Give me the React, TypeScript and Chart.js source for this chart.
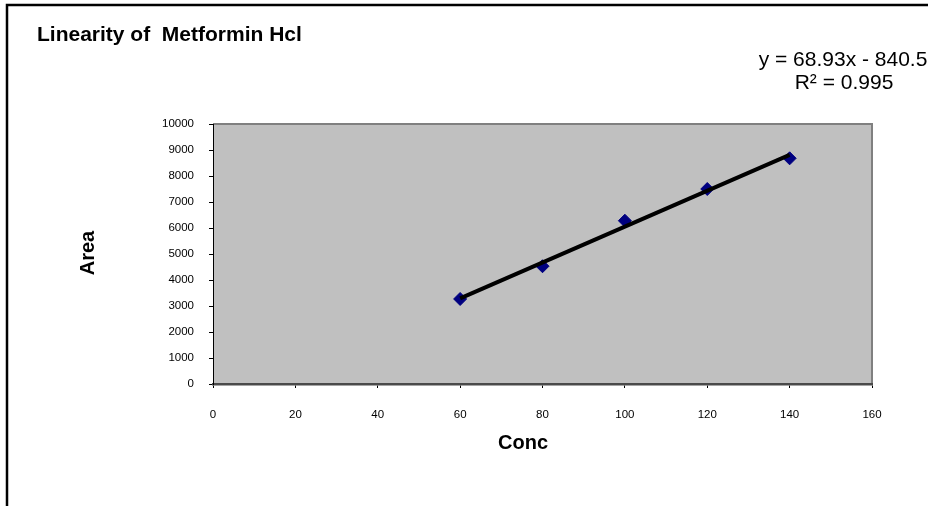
import React, { useEffect, useRef } from "react";
import { Chart, registerables } from "chart.js";

Chart.register(...registerables);

const chartTitle = "Linearity of  Metformin Hcl";
const xAxisTitle = "Conc";
const yAxisTitle = "Area";
const equationText = "y = 68.93x - 840.5";
const rSquaredText = "R² = 0.995";

const concValues = [60, 80, 100, 120, 140];
const areaValues = [3270, 4530, 6280, 7500, 8680];

const xTickMin = 0;
const xTickMax = 160;
const xTickStep = 20;
const yTickMin = 0;
const yTickMax = 10000;
const yTickStep = 1000;

const FONT = "'Liberation Sans', Arial, Helvetica, sans-serif";

function linearFit(xs: number[], ys: number[]) {
  const n = xs.length;
  const mx = xs.reduce((a, b) => a + b, 0) / n;
  const my = ys.reduce((a, b) => a + b, 0) / n;
  let sxy = 0;
  let sxx = 0;
  for (let i = 0; i < n; i++) {
    sxy += (xs[i] - mx) * (ys[i] - my);
    sxx += (xs[i] - mx) * (xs[i] - mx);
  }
  const slope = sxy / sxx;
  return { slope, intercept: my - slope * mx };
}

const decorPlugin = {
  id: "decor",
  beforeDraw(chart: any) {
    const { ctx, chartArea } = chart;
    ctx.save();
    ctx.fillStyle = "#ffffff";
    ctx.fillRect(0, 0, chart.width, chart.height);
    // outer frame
    ctx.strokeStyle = "#000000";
    ctx.lineWidth = 2.5;
    ctx.strokeRect(7, 5, 1200, 1000);
    // plot background
    ctx.fillStyle = "#c0c0c0";
    ctx.fillRect(chartArea.left, chartArea.top, chartArea.right - chartArea.left, chartArea.bottom - chartArea.top);
    // top/right plot border
    ctx.strokeStyle = "#808080";
    ctx.lineWidth = 2;
    ctx.beginPath();
    ctx.moveTo(chartArea.left, chartArea.top);
    ctx.lineTo(chartArea.right, chartArea.top);
    ctx.lineTo(chartArea.right, chartArea.bottom);
    ctx.stroke();
    ctx.restore();
  },
  afterDraw(chart: any) {
    const { ctx } = chart;
    ctx.save();
    ctx.fillStyle = "#000000";
    ctx.textBaseline = "alphabetic";
    // title
    ctx.font = `bold 21px ${FONT}`;
    ctx.textAlign = "left";
    ctx.fillText(chartTitle, 37, 41);
    // equation
    ctx.font = `21px ${FONT}`;
    ctx.textAlign = "center";
    ctx.fillText(equationText, 843, 66);
    ctx.fillText(rSquaredText, 844, 89);
    // x axis title
    ctx.font = `bold 20px ${FONT}`;
    ctx.textAlign = "center";
    ctx.fillText(xAxisTitle, 523, 449);
    // y axis title
    ctx.translate(94, 253);
    ctx.rotate(-Math.PI / 2);
    ctx.textAlign = "center";
    ctx.fillText(yAxisTitle, 0, 0);
    ctx.restore();
  },
};

export default function App() {
  const canvasRef = useRef<HTMLCanvasElement | null>(null);

  useEffect(() => {
    const canvas = canvasRef.current;
    if (!canvas) return;
    const fit = linearFit(concValues, areaValues);
    const xStart = Math.min(...concValues);
    const xEnd = Math.max(...concValues);
    const trend = [
      { x: xStart, y: fit.slope * xStart + fit.intercept },
      { x: xEnd, y: fit.slope * xEnd + fit.intercept },
    ];
    const points = concValues.map((x, i) => ({ x, y: areaValues[i] }));

    const chart = new Chart(canvas, {
      type: "scatter",
      data: {
        datasets: [
          {
            type: "line",
            label: "Linear",
            data: trend,
            borderColor: "#000000",
            borderWidth: 4,
            pointRadius: 0,
            fill: false,
            order: 0,
          } as any,
          {
            label: "Area",
            data: points,
            pointStyle: "rectRot",
            pointRadius: 6.5,
            pointBackgroundColor: "#000080",
            pointBorderColor: "#000080",
            pointBorderWidth: 1,
            showLine: false,
            order: 1,
          },
        ],
      },
      options: {
        responsive: false,
        animation: false,
        devicePixelRatio: 1,
        layout: { padding: { left: 0, top: 124, right: 56, bottom: 0 } },
        plugins: {
          legend: { display: false },
          title: { display: false },
          tooltip: { enabled: false },
        },
        scales: {
          x: {
            type: "linear",
            min: xTickMin,
            max: xTickMax,
            afterFit: (scale: any) => {
              scale.height = 122;
            },
            ticks: {
              stepSize: xTickStep,
              color: "#000000",
              font: { family: FONT, size: 11.5 },
              padding: 20,
              maxRotation: 0,
              callback: (v: any) => String(v),
            },
            grid: {
              drawOnChartArea: false,
              drawTicks: true,
              tickLength: 4,
              tickColor: "#000000",
            },
            border: { display: true, color: "#4a4a4a", width: 2.5 },
          },
          y: {
            type: "linear",
            min: yTickMin,
            max: yTickMax,
            afterFit: (scale: any) => {
              scale.width = 213;
            },
            ticks: {
              stepSize: yTickStep,
              color: "#000000",
              font: { family: FONT, size: 11.5 },
              padding: 15,
              callback: (v: any) => String(v),
            },
            grid: {
              drawOnChartArea: false,
              drawTicks: true,
              tickLength: 4,
              tickColor: "#000000",
            },
            border: { display: true, color: "#000000", width: 1 },
          },
        },
      },
      plugins: [decorPlugin],
    });
    return () => chart.destroy();
  }, []);

  return (
    <div style={{ position: "absolute", left: 0, top: 0, width: 928, height: 506 }}>
      <canvas ref={canvasRef} width={928} height={506} style={{ display: "block", width: 928, height: 506 }} />
    </div>
  );
}
